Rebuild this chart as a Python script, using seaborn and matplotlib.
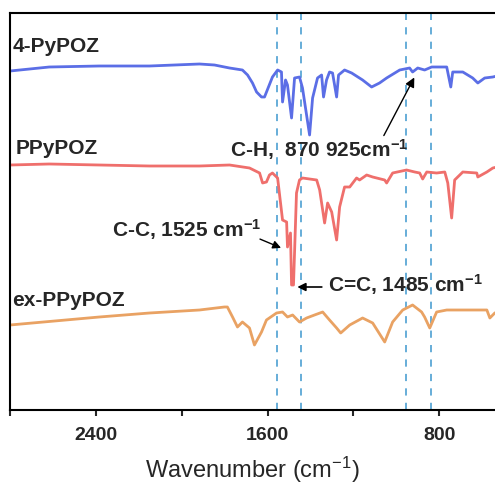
import matplotlib
matplotlib.use("Agg")
import matplotlib.pyplot as plt
import seaborn as sns
import pandas as pd
from matplotlib.ticker import FixedLocator

# ---- data (arbitrary intensity units) ----
wn_pypoz = [2800, 2617, 2384, 2150, 1917, 1847, 1777, 1717, 1693, 1670, 1651, 1628, 1614,
            1577, 1553, 1535, 1530, 1516, 1507, 1488, 1474, 1451, 1437, 1404, 1390, 1367,
            1348, 1339, 1325, 1311, 1297, 1278, 1269, 1241, 1208, 1157, 1115, 1078, 1045,
            984, 938, 924, 900, 868, 835, 798, 765, 746, 737, 690, 644, 620, 588, 550, 531]
int_pypoz = [339, 343, 344, 344, 346, 345, 342, 340, 335, 327, 318, 313, 313,
             333, 340, 338, 308, 330, 325, 292, 332, 333, 322, 275, 312, 332,
             335, 313, 330, 338, 337, 313, 335, 340, 337, 330, 323, 327, 332,
             340, 342, 338, 342, 340, 343, 343, 343, 323, 338, 338, 332, 327, 332, 333, 334]

wn_ppypoz = [2800, 2617, 2384, 2150, 1917, 1777, 1684, 1637, 1623, 1605, 1591, 1577, 1553,
             1530, 1511, 1507, 1493, 1488, 1479, 1465, 1451, 1437, 1371, 1357, 1334, 1320,
             1301, 1278, 1264, 1241, 1217, 1185, 1171, 1138, 1110, 1054, 1045, 1017, 952,
             914, 891, 877, 858, 812, 774, 760, 742, 728, 690, 625, 620, 578, 550, 531]
int_ppypoz = [245, 246, 245, 244, 244, 245, 242, 237, 227, 228, 235, 237, 232,
              190, 188, 163, 177, 125, 125, 217, 230, 232, 230, 220, 187, 207,
              198, 170, 203, 223, 223, 232, 230, 235, 233, 230, 227, 237, 240,
              238, 237, 231, 238, 237, 238, 227, 192, 230, 238, 237, 233, 238, 242, 243]

wn_ex = [2800, 2384, 2150, 1917, 1801, 1787, 1763, 1740, 1717, 1684, 1661, 1628, 1605,
         1558, 1530, 1507, 1483, 1451, 1418, 1381, 1343, 1311, 1278, 1259, 1217, 1157,
         1110, 1054, 1017, 970, 924, 882, 868, 844, 812, 765, 644, 578, 564, 541, 531]
int_ex = [85, 93, 97, 100, 103, 103, 93, 83, 88, 82, 65, 78, 90,
          97, 98, 93, 95, 88, 92, 95, 98, 90, 82, 77, 85, 92,
          87, 68, 88, 100, 105, 98, 93, 82, 98, 100, 100, 100, 92, 97, 98]

series_names = ["4-PyPOZ", "PPyPOZ", "ex-PPyPOZ"]
series_colors = ["#5b6ee6", "#ef6f6c", "#e9a263"]
marker_lines = [1558, 1446, 956, 837]
tick_labels = [2400, 1600, 800]
minor_ticks = [2800, 2000, 1200]

# ---- style ----
sns.set_style("white")
plt.rcParams["font.family"] = ["Liberation Sans", "DejaVu Sans"]
plt.rcParams["mathtext.default"] = "regular"

fig = plt.figure(figsize=(4.95, 4.87), dpi=100)
ax = fig.add_axes([10 / 495, 1 - 410 / 487, 1 - 10 / 495, (410 - 13) / 487])

frames = [
    pd.DataFrame({"wn": wn_pypoz, "I": int_pypoz}),
    pd.DataFrame({"wn": wn_ppypoz, "I": int_ppypoz}),
    pd.DataFrame({"wn": wn_ex, "I": int_ex}),
]
for df, c in zip(frames, series_colors):
    sns.lineplot(data=df, x="wn", y="I", ax=ax, color=c, lw=2.0, sort=False,
                 estimator=None, solid_joinstyle="round", solid_capstyle="round")

for xv in marker_lines:
    ax.axvline(xv, color="#5aa7d6", lw=1.3, ls=(0, (4, 4)), zorder=0)

ax.set_xlim(2800, 540)
ax.set_ylim(0, 397)

ax.xaxis.set_major_locator(FixedLocator(tick_labels))
ax.xaxis.set_minor_locator(FixedLocator(minor_ticks))
ax.set_xticklabels([str(t) for t in tick_labels], fontsize=14, fontweight="bold")
ax.tick_params(axis="x", which="both", direction="out", length=4, width=1.5,
               bottom=True, pad=8)
ax.set_yticks([])
ax.set_ylabel("")
ax.set_xlabel("Wavenumber (cm$^{-1}$)", fontsize=17, labelpad=8)

for s in ["left", "bottom", "top"]:
    ax.spines[s].set_linewidth(1.5)
    ax.spines[s].set_color("black")
ax.spines["right"].set_visible(False)

# series labels
label_pos = [(2790, 363), (2776, 262), (2790, 110)]
for name, (x, y) in zip(series_names, label_pos):
    ax.text(x, y, name, fontsize=15, fontweight="bold", ha="left", va="center")

# annotations
ax.text(1777, 260, "C-H,  870 925cm$^{-1}$", fontsize=15, fontweight="bold",
        ha="left", va="center")
ax.annotate("", xy=(910, 335), xytext=(1064, 272),
            arrowprops=dict(arrowstyle="-|>", color="black", lw=1.0,
                            mutation_scale=14))
ax.text(2323, 180, "C-C, 1525 cm$^{-1}$", fontsize=15, fontweight="bold",
        ha="left", va="center")
ax.annotate("", xy=(1525, 161), xytext=(1647, 172),
            arrowprops=dict(arrowstyle="-|>", color="black", lw=1.0,
                            mutation_scale=12))
ax.text(1320, 125, "C=C, 1485 cm$^{-1}$", fontsize=15, fontweight="bold",
        ha="left", va="center")
ax.annotate("", xy=(1474, 123), xytext=(1334, 123),
            arrowprops=dict(arrowstyle="-|>", color="black", lw=1.2,
                            mutation_scale=12))

fig.savefig("out.png", dpi=100)
